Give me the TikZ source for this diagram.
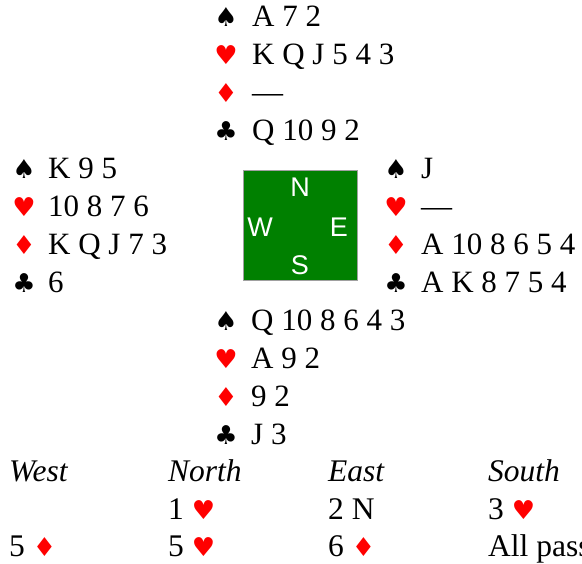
\documentclass[tikz,border=0pt]{standalone}
\usepackage{fontspec}
\setmainfont{Liberation Serif}
\newfontfamily\suitfont{DejaVu Sans}
\newfontfamily\seatfont{Liberation Sans}
\definecolor{suitred}{RGB}{255,0,0}
\definecolor{tablegreen}{RGB}{0,128,0}
\definecolor{tableedge}{RGB}{160,160,160}

% suit symbols
\newcommand\SuitS{{\suitfont\fontsize{26}{26}\selectfont ♠}}
\newcommand\SuitH{{\suitfont\fontsize{26}{26}\selectfont\color{suitred}♥}}
\newcommand\SuitD{{\suitfont\fontsize{26}{26}\selectfont\color{suitred}♦}}
\newcommand\SuitC{{\suitfont\fontsize{26}{26}\selectfont ♣}}

\tikzset{
  suitsym/.style={anchor=base, inner sep=0pt},
  cardrow/.style={anchor=base west, inner sep=0pt, font=\fontsize{31}{31}\selectfont},
  seat/.style={anchor=base, inner sep=0pt, text=white, font=\seatfont\fontsize{27}{27}\selectfont},
  bidtext/.style={anchor=base west, inner sep=0pt, font=\fontsize{31.5}{31.5}\selectfont},
}

\begin{document}
\begin{tikzpicture}[x=1pt,y=1pt]
\useasboundingbox (0,0) rectangle (582,564);
\clip (0,0) rectangle (582,564);

% North
\node[suitsym] (ns) at (226,537) {\SuitS};
\node[cardrow] (nsc) at (252,537) {A 7 2};
\node[suitsym] (nh) at (226,499) {\SuitH};
\node[cardrow] (nhc) at (252,499) {K Q J 5 4 3};
\node[suitsym] (nd) at (226,461) {\SuitD};
\node[cardrow] (ndc) at (252,461) {—};
\node[suitsym] (nc) at (226,423) {\SuitC};
\node[cardrow] (ncc) at (252,423) {Q 10 9 2};

% West
\node[suitsym] (ws) at (24,385) {\SuitS};
\node[cardrow] (wsc) at (48,385) {K 9 5};
\node[suitsym] (wh) at (24,347) {\SuitH};
\node[cardrow] (whc) at (48,347) {10 8 7 6};
\node[suitsym] (wd) at (24,309) {\SuitD};
\node[cardrow] (wdc) at (48,309) {K Q J 7 3};
\node[suitsym] (wc) at (24,271) {\SuitC};
\node[cardrow] (wcc) at (48,271) {6};

% East
\node[suitsym] (es) at (396,385) {\SuitS};
\node[cardrow] (esc) at (421,385) {J};
\node[suitsym] (eh) at (396,347) {\SuitH};
\node[cardrow] (ehc) at (421,347) {—};
\node[suitsym] (ed) at (396,309) {\SuitD};
\node[cardrow] (edc) at (421,309) {A 10 8 6 5 4};
\node[suitsym] (ec) at (396,271) {\SuitC};
\node[cardrow] (ecc) at (421,271) {A K 8 7 5 4};

% South
\node[suitsym] (ss) at (226,233) {\SuitS};
\node[cardrow] (ssc) at (251,233) {Q 10 8 6 4 3};
\node[suitsym] (sh) at (226,195) {\SuitH};
\node[cardrow] (shc) at (251,195) {A 9 2};
\node[suitsym] (sd) at (226,157) {\SuitD};
\node[cardrow] (sdc) at (251,157) {9 2};
\node[suitsym] (sc) at (226,119) {\SuitC};
\node[cardrow] (scc) at (251,119) {J 3};

% table with compass points
\node[draw=tableedge, line width=0.8pt, fill=tablegreen, minimum width=114, minimum height=110, inner sep=0pt] (table) at (300,339) {};
\node[seat] (seatN) at (300,367) {N};
\node[seat] (seatW) at (260,327) {W};
\node[seat] (seatE) at (339,327) {E};
\node[seat] (seatS) at (300,289) {S};

% auction
\node[bidtext] (hw) at (9,82) {\itshape West};
\node[bidtext] (hn) at (168,82) {\itshape North};
\node[bidtext] (he) at (328,82) {\itshape East};
\node[bidtext] (hs) at (488,82) {\itshape South};
\node[bidtext] (b1) at (168,44) {1 \SuitH};
\node[bidtext] (b2) at (328,44) {2 N};
\node[bidtext] (b3) at (488,44) {3 \SuitH};
\node[bidtext] (b4) at (9,7) {5 \SuitD};
\node[bidtext] (b5) at (168,7) {5 \SuitH};
\node[bidtext] (b6) at (328,7) {6 \SuitD};
\node[bidtext] (b7) at (488,7) {All pass};
\end{tikzpicture}
\end{document}
